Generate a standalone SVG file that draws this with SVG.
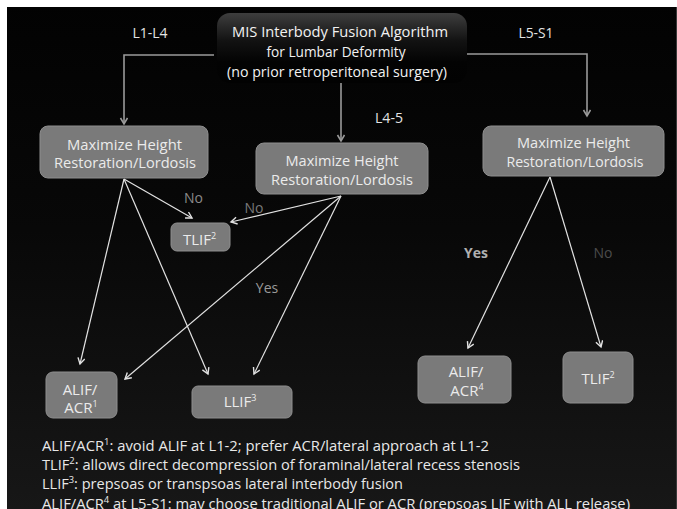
<svg xmlns="http://www.w3.org/2000/svg" width="677" height="509" viewBox="0 0 677 509">
<defs>
<linearGradient id="bg" x1="0" y1="0" x2="0" y2="1">
<stop offset="0" stop-color="#020202"/>
<stop offset="0.45" stop-color="#080808"/>
<stop offset="1" stop-color="#171717"/>
</linearGradient>
<linearGradient id="tg" x1="0" y1="0" x2="0" y2="1">
<stop offset="0" stop-color="#3e3e3e"/>
<stop offset="0.4" stop-color="#121212"/>
<stop offset="0.7" stop-color="#030303"/>
<stop offset="1" stop-color="#020202"/>
</linearGradient>
<marker id="aw" markerWidth="10" markerHeight="10" refX="7" refY="4" orient="auto" markerUnits="userSpaceOnUse">
<path d="M1,0.5 L7,4 L1,7.5" fill="none" stroke="#e2e2e2" stroke-width="1.4"/>
</marker>
<marker id="ag" markerWidth="10" markerHeight="10" refX="7" refY="4" orient="auto" markerUnits="userSpaceOnUse">
<path d="M1,0.5 L7,4 L1,7.5" fill="none" stroke="#9a9a9a" stroke-width="1.6"/>
</marker>
<style>
text{font-family:"Open Sans","Liberation Sans",sans-serif;}
.box{fill:#7a7a7a;stroke:#8e8e8e;stroke-width:1;}
.bt{fill:#ebebeb;font-size:15px;text-anchor:middle;}
.tt{fill:#f2f2f2;font-size:15px;text-anchor:middle;}
.lab{fill:#e4e4e4;font-size:14px;text-anchor:middle;}
.fn{fill:#e8e8e8;font-size:14px;}
.w{stroke:#e2e2e2;stroke-width:1.2;fill:none;marker-end:url(#aw);}
.g{stroke:#9a9a9a;stroke-width:1.6;fill:none;marker-end:url(#ag);}
.sup{font-size:9px;}
</style>
</defs>
<rect x="0" y="0" width="677" height="509" fill="url(#bg)"/>
<rect x="0" y="0" width="677" height="7" fill="#fff"/>
<rect x="0" y="0" width="7" height="509" fill="#fff"/>
<rect x="676" y="7" width="1" height="502" fill="#3a3a3a"/>

<g id="connectors">
<polyline class="g" points="214,55 124,55 124,124"/>
<polyline class="g" points="458,54 587,54 587,116"/>
<line class="g" x1="341" y1="82" x2="341" y2="141"/>
<line class="w" x1="124" y1="179" x2="80" y2="364"/>
<line class="w" x1="124" y1="179" x2="192" y2="218"/>
<line class="w" x1="124" y1="179" x2="208" y2="374"/>
<line class="w" x1="341" y1="196" x2="231" y2="222"/>
<line class="w" x1="341" y1="196" x2="125" y2="379"/>
<line class="w" x1="341" y1="196" x2="254" y2="374"/>
<line class="w" x1="550" y1="177" x2="468" y2="348"/>
<line class="w" x1="550" y1="177" x2="601" y2="347"/>
</g>

<g id="title">
<rect x="217" y="13" width="250" height="70" rx="13" fill="url(#tg)"/>
<text class="tt" x="340" y="37" textLength="216" lengthAdjust="spacingAndGlyphs">MIS Interbody Fusion Algorithm</text>
<text class="tt" x="336" y="57" textLength="139" lengthAdjust="spacingAndGlyphs">for Lumbar Deformity</text>
<text class="tt" x="337" y="77" textLength="220" lengthAdjust="spacingAndGlyphs">(no prior retroperitoneal surgery)</text>
</g>

<g id="label-l1l4"><text class="lab" x="150" y="38" textLength="35" lengthAdjust="spacingAndGlyphs">L1-L4</text></g>
<g id="label-l5s1"><text class="lab" x="536" y="38" textLength="35" lengthAdjust="spacingAndGlyphs">L5-S1</text></g>
<g id="label-l45"><text class="lab" x="389" y="123" textLength="28" lengthAdjust="spacingAndGlyphs">L4-5</text></g>

<g id="max-left">
<rect class="box" x="40" y="126" width="168" height="52" rx="8"/>
<text class="bt" x="124.5" y="150" textLength="115" lengthAdjust="spacingAndGlyphs">Maximize Height</text>
<text class="bt" x="125" y="168" textLength="142" lengthAdjust="spacingAndGlyphs">Restoration/Lordosis</text>
</g>
<g id="max-mid">
<rect class="box" x="256" y="143" width="172" height="51" rx="8"/>
<text class="bt" x="342" y="166" textLength="113" lengthAdjust="spacingAndGlyphs">Maximize Height</text>
<text class="bt" x="342" y="185" textLength="142" lengthAdjust="spacingAndGlyphs">Restoration/Lordosis</text>
</g>
<g id="max-right">
<rect class="box" x="483" y="126" width="181" height="50" rx="8"/>
<text class="bt" x="573.5" y="148" textLength="113" lengthAdjust="spacingAndGlyphs">Maximize Height</text>
<text class="bt" x="575" y="167" textLength="137" lengthAdjust="spacingAndGlyphs">Restoration/Lordosis</text>
</g>

<g id="tlif-left">
<rect class="box" x="171" y="223" width="59" height="28" rx="6"/>
<text class="bt" x="199.5" y="245" font-size="14">TLIF<tspan class="sup" dy="-6">2</tspan></text>
</g>
<g id="alif-acr1">
<rect class="box" x="46" y="372" width="71" height="46" rx="7"/>
<text class="bt" x="80" y="395" font-size="14">ALIF/</text>
<text class="bt" x="81" y="413" font-size="14">ACR<tspan class="sup" dy="-6">1</tspan></text>
</g>
<g id="llif3">
<rect class="box" x="192" y="386" width="100" height="32" rx="6"/>
<text class="bt" x="240" y="407" font-size="14">LLIF<tspan class="sup" dy="-6">3</tspan></text>
</g>
<g id="alif-acr4">
<rect class="box" x="418" y="356" width="93" height="47" rx="7"/>
<text class="bt" x="466" y="377" font-size="14">ALIF/</text>
<text class="bt" x="467" y="396" font-size="14">ACR<tspan class="sup" dy="-6">4</tspan></text>
</g>
<g id="tlif-right">
<rect class="box" x="563" y="352" width="70" height="51" rx="7"/>
<text class="bt" x="598" y="384" font-size="14">TLIF<tspan class="sup" dy="-6">2</tspan></text>
</g>

<g id="edge-labels">
<text x="193.5" y="203" font-size="14" fill="#8a8a8a" text-anchor="middle">No</text>
<text x="254" y="213" font-size="14" fill="#7a7a7a" text-anchor="middle">No</text>
<text x="267" y="293" font-size="14" fill="#9a9a9a" text-anchor="middle">Yes</text>
<text x="476" y="258" font-size="14" font-weight="bold" fill="#b0b0b0" text-anchor="middle">Yes</text>
<text x="603" y="258" font-size="14" fill="#4c4c4c" text-anchor="middle">No</text>
</g>

<g id="footnotes">
<text class="fn" x="42" y="451" textLength="447" lengthAdjust="spacingAndGlyphs">ALIF/ACR<tspan class="sup" dy="-6">1</tspan><tspan dy="6">: avoid ALIF at L1-2; prefer ACR/lateral approach at L1-2</tspan></text>
<text class="fn" x="42" y="469.5" textLength="478" lengthAdjust="spacingAndGlyphs">TLIF<tspan class="sup" dy="-6">2</tspan><tspan dy="6">: allows direct decompression of foraminal/lateral recess stenosis</tspan></text>
<text class="fn" x="42" y="488.5" textLength="361" lengthAdjust="spacingAndGlyphs">LLIF<tspan class="sup" dy="-6">3</tspan><tspan dy="6">: prepsoas or transpsoas lateral interbody fusion</tspan></text>
<text class="fn" x="42" y="509" textLength="588" lengthAdjust="spacingAndGlyphs">ALIF/ACR<tspan class="sup" dy="-6">4</tspan><tspan dy="6"> at L5-S1: may choose traditional ALIF or ACR (prepsoas LIF with ALL release)</tspan></text>
</g>
</svg>
